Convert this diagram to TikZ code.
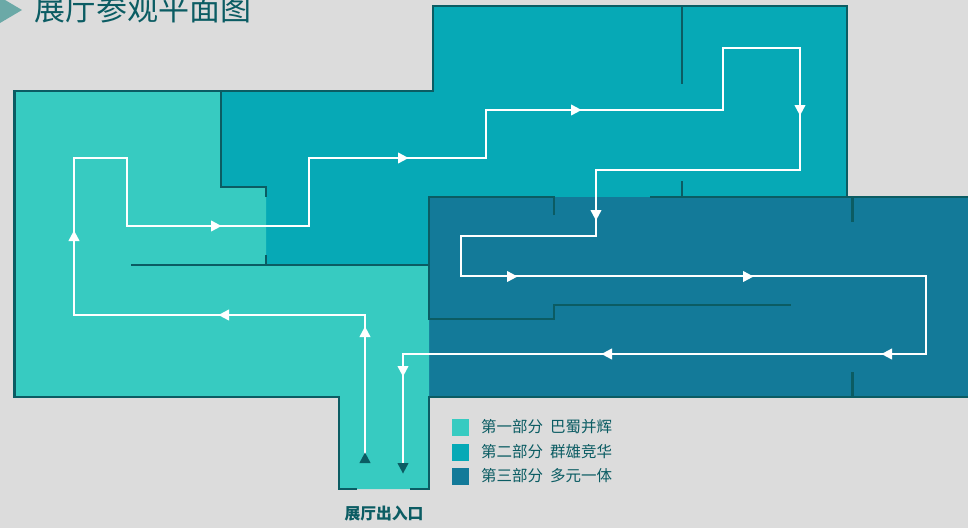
\documentclass[tikz,border=0pt]{standalone}
\usepackage{fontspec}
\setmainfont{Noto Sans CJK SC}
\definecolor{bgc}{HTML}{DCDCDC}
\definecolor{lightc}{HTML}{37CBC1}
\definecolor{midc}{HTML}{06A9B6}
\definecolor{darkc}{HTML}{137A99}
\definecolor{wallc}{HTML}{0B5C63}
\definecolor{markc}{HTML}{6BA9A7}
\tikzset{
  wall/.style={draw=wallc,line width=2.6pt,line cap=butt,line join=miter},
  thinwall/.style={draw=wallc,line width=2.2pt},
  route/.style={draw=white,line width=1.3pt,line join=miter},
  legendbox/.style={minimum width=17pt,minimum height=17pt,inner sep=0pt,draw=none},
  legendtext/.style={anchor=west,inner sep=0pt,text=wallc,font=\fontsize{15.5}{16}\selectfont},
}
% #1 centre, #2 rotation, #3 colour
\newcommand{\tri}[3]{\fill[#3,shift={(#1)},rotate=#2] (0,-5.5) -- (5.6,5) -- (-5.6,5) -- cycle;}
\begin{document}
\begin{tikzpicture}[x=1pt,y=-1pt]
\useasboundingbox (0,0) rectangle (968,528);
\fill[bgc] (0,0) rectangle (968,528);
% zones
\fill[midc] (221,91) -- (433,91) -- (433,6) -- (847,6) -- (847,197) -- (429,197) -- (429,265) -- (266,265) -- (266,187) -- (221,187) -- cycle;
\fill[darkc] (429,197) -- (968,197) -- (968,397) -- (429,397) -- cycle;
\fill[lightc] (14.5,91) -- (221,91) -- (221,187) -- (266,187) -- (266,265) -- (429,265) -- (429,489) -- (339,489) -- (339,397) -- (14.5,397) -- cycle;
% walls
\draw[wall] (357,489) -- (339,489) -- (339,397) -- (14.5,397) -- (14.5,91) -- (433,91) -- (433,6) -- (847,6) -- (847,198);
\draw[wall] (221,91) -- (221,187) -- (266,187) -- (266,197);
\draw[thinwall] (266,255) -- (266,265);
\draw[wall] (131,265) -- (429,265);
\draw[wall] (410,489) -- (429,489) -- (429,397) -- (968,397);
\draw[wall] (554,215) -- (554,197) -- (429,197) -- (429,319) -- (554,319) -- (554,305) -- (791,305);
\draw[wall] (650,197) -- (968,197);
\draw[thinwall] (852.5,197) -- (852.5,222);
\draw[thinwall] (852.5,372) -- (852.5,397);
\draw[wall] (682,6) -- (682,84);
\draw[wall] (682,181) -- (682,197);
% route
\coordinate (start) at (365,463);
\coordinate (finish) at (403,465);
\draw[route] (start) -- (365,315) -- (74,315) -- (74,158) -- (127,158) -- (127,226) -- (309,226) -- (309,158) -- (486,158) -- (486,110) -- (723,110) -- (723,48) -- (800,48) -- (800,170) -- (596,170) -- (596,236) -- (461,236) -- (461,276) -- (926,276) -- (926,354) -- (403,354) -- (finish);
% arrowheads
\tri{365,332}{0}{white}
\tri{224,315}{90}{white}
\tri{74,236}{0}{white}
\tri{216,226}{-90}{white}
\tri{403,158}{-90}{white}
\tri{576,110}{-90}{white}
\tri{800,110}{180}{white}
\tri{596,215}{180}{white}
\tri{512,276.5}{-90}{white}
\tri{748,276.5}{-90}{white}
\tri{887,354}{90}{white}
\tri{607,354}{90}{white}
\tri{403,371}{180}{white}
\tri{365,458}{0}{wallc}
\tri{403,468}{180}{wallc}
% title
\fill[markc] (0,-3) -- (22,10) -- (0,23) -- cycle;
\node[anchor=west,inner sep=0pt,text=wallc,font=\fontsize{31}{32}\selectfont] (title) at (34,9) {展厅参观平面图};
% legend
\node[legendbox,fill=lightc] (k1) at (460.5,427.5) {};
\node[legendbox,fill=midc] (k2) at (460.5,452) {};
\node[legendbox,fill=darkc] (k3) at (460.5,476) {};
\node[legendtext] (t1) at (481,427) {第一部分\hspace{7pt}巴蜀并辉};
\node[legendtext] (t2) at (481,452) {第二部分\hspace{7pt}群雄竞华};
\node[legendtext] (t3) at (481,476) {第三部分\hspace{7pt}多元一体};
\node[inner sep=0pt,text=wallc,font=\fontsize{15.8}{16}\selectfont\bfseries] (exit) at (384,514) {展厅出入口};
\end{tikzpicture}
\end{document}
